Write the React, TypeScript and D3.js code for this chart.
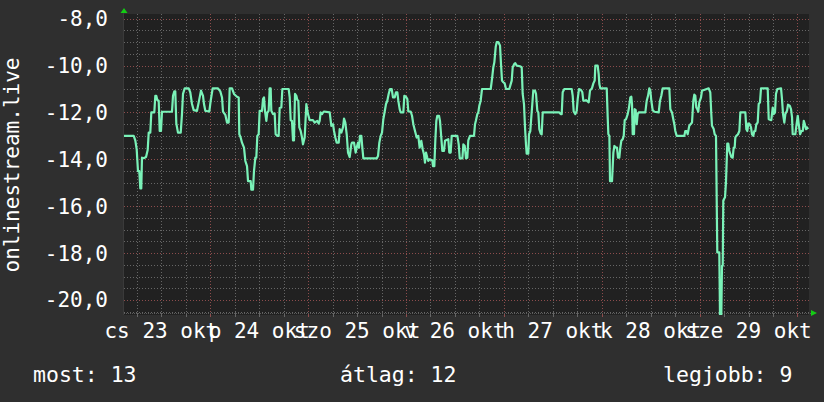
import React from "react";
import * as d3 from "d3";

// ---- data ----
const START_UTC = Date.UTC(2025, 9, 23, 2, 50); // Thu 23 Oct 2025 02:50
const SPAN_HOURS = 168;
const Y_MIN = -20.64;
const Y_MAX = -7.8;
const Y_TICKS = [-8, -10, -12, -14, -16, -18, -20];
const DAY_LABELS = ["cs 23 okt", "p 24 okt", "szo 25 okt", "v 26 okt", "h 27 okt", "k 28 okt", "sze 29 okt"];
const Y_TITLE = "onlinestream.live";
const LEGEND = ["most: 13", "átlag: 12", "legjobb: 9"];

// [hours since start, value]
const SEG_THU: [number, number][] = [
  [0.0,-13.0],[2.38,-13.0],[2.77,-13.19],[3.11,-13.57],[3.43,-14.5],[3.75,-14.5],[4.0,-15.24],[4.24,-15.24],[4.41,-13.93],[4.83,-13.95],[5.4,-13.9],[5.81,-13.6],[6.06,-12.86],[6.45,-12.86],[6.7,-12.0],[7.43,-12.0],[7.68,-11.29],[7.92,-11.29],[8.17,-11.47],[8.51,-11.5],[8.76,-12.79],[9.07,-12.79],[9.32,-11.97],[11.77,-11.97],[12.02,-11.29],[12.34,-11.1],[12.58,-11.1],[12.83,-12.47],[13.24,-12.86],[13.91,-12.86],[14.22,-12.07],[14.47,-11.21],[14.89,-10.97],[15.87,-10.97],[16.26,-11.14],[16.68,-11.64],[17.09,-11.9],[17.9,-11.93],[18.32,-11.57],[18.88,-11.07],[19.38,-11.29],[19.62,-11.64],[19.94,-11.93],[20.92,-11.96],[21.26,-11.5],[21.75,-10.97],[23.05,-10.97],[23.62,-11.1],[24.04,-11.36],[24.28,-11.96],[24.85,-12.1],[25.26,-12.43],[25.68,-12.43],[25.92,-10.97],[26.49,-10.97],[26.98,-11.21],[27.71,-11.33],[28.13,-11.36],[28.28,-12.93]
];
const SEG_FRI: [number, number][] = [
  [28.61,-13.07],[28.94,-13.29],[29.43,-13.5],[29.76,-14.07],[30.17,-14.29],[30.42,-14.93],[31.07,-14.93],[31.23,-15.29],[31.64,-15.29],[31.88,-14.5],[32.21,-13.93],[32.45,-13.93],[32.7,-13.0],[33.03,-12.93],[33.27,-11.93],[33.85,-11.93],[34.09,-11.43],[34.34,-11.36],[34.58,-11.93],[34.91,-12.36],[35.15,-12.0],[35.48,-11.93],[35.73,-10.97],[35.97,-10.97],[36.13,-11.93],[36.54,-12.07],[36.95,-12.04],[37.19,-12.93],[37.61,-13.0],[37.93,-13.0],[38.18,-11.81],[38.59,-11.79],[38.84,-11.0],[40.39,-11.0],[40.64,-11.36],[40.88,-12.33],[41.2,-12.36],[41.45,-13.19],[41.69,-13.19],[41.94,-11.21],[42.27,-11.29],[42.51,-11.47],[42.76,-11.5],[43.0,-12.64],[43.33,-12.79],[43.66,-13.07],[43.9,-13.36],[44.31,-13.07],[44.72,-11.64],[45.13,-12.07],[45.54,-12.33],[46.35,-12.33],[46.76,-12.43],[47.41,-12.36],[47.74,-12.47],[47.99,-12.36],[48.23,-12.0],[48.56,-12.07],[48.81,-12.0],[49.05,-11.96],[50.45,-12.0],[50.85,-12.57],[51.26,-12.5],[51.51,-12.79],[51.83,-13.07],[52.16,-13.29],[52.66,-13.29],[52.9,-12.71],[53.3,-12.86],[53.71,-12.64],[53.96,-12.26],[54.28,-12.43],[54.62,-12.93],[54.94,-13.71],[55.35,-13.9],[55.75,-13.36],[55.92,-13.29],[56.41,-13.29]
];
const SEG_SAT: [number, number][] = [
  [56.82,-13.71],[57.07,-13.5],[57.39,-13.29],[57.64,-13.5],[57.88,-13.0],[58.21,-13.0],[58.45,-13.5],[58.7,-13.96],[61.98,-13.96],[62.3,-13.86],[62.62,-13.29],[62.95,-13.0],[63.28,-12.86],[63.6,-12.29],[63.93,-11.97],[64.26,-11.64],[64.58,-11.5],[64.91,-11.21],[65.24,-11.0],[65.65,-11.0],[65.97,-11.36],[66.39,-11.36],[66.71,-11.14],[67.04,-11.14],[67.28,-11.5],[67.61,-11.86],[67.86,-12.0],[68.51,-12.0],[68.75,-11.29],[69.16,-11.33],[69.49,-11.43],[69.73,-11.96],[70.31,-11.96],[70.64,-12.14],[70.96,-12.5],[71.37,-12.79],[71.78,-13.07],[72.18,-13.0],[72.51,-13.5],[72.92,-13.21],[73.26,-13.57],[73.58,-13.79],[73.82,-14.14],[74.07,-13.71],[74.39,-13.93],[74.63,-14.07],[74.88,-14.0],[75.61,-14.04],[75.79,-14.29],[76.11,-14.29],[76.35,-13.21],[76.6,-12.36],[76.84,-12.14],[77.26,-12.14],[77.5,-12.36],[77.82,-13.07],[78.07,-13.64],[78.48,-13.64],[78.73,-13.21],[78.97,-13.19],[79.54,-13.14],[79.78,-13.71],[80.12,-13.71],[80.37,-13.0],[81.76,-13.0],[82.09,-13.36],[82.34,-13.96],[82.99,-13.96],[83.23,-13.36],[83.56,-13.43],[83.88,-13.96],[84.2,-13.93],[84.44,-13.19],[84.86,-13.0]
];
const SEG_SUN: [number, number][] = [
  [85.84,-13.0],[86.09,-12.5],[86.33,-12.33],[86.66,-12.07],[86.9,-12.0],[87.15,-11.71],[87.48,-11.5],[87.8,-11.0],[89.94,-11.0],[90.26,-10.57],[90.58,-10.07],[90.83,-9.86],[91.16,-9.21],[91.41,-9.0],[91.8,-9.0],[92.22,-9.14],[92.46,-9.93],[92.71,-10.64],[93.03,-10.71],[93.37,-10.76],[93.69,-11.0],[94.5,-11.0],[94.84,-10.79],[95.09,-10.64],[95.33,-10.07],[95.72,-9.93],[95.97,-9.9],[96.31,-10.0],[97.12,-10.03],[97.54,-10.07],[97.78,-11.21],[98.1,-11.64],[98.35,-12.64],[98.59,-13.36],[98.76,-13.76],[99.16,-13.76],[99.33,-12.93],[99.65,-12.79],[99.89,-12.21],[100.14,-11.64],[100.38,-11.07],[100.8,-11.07],[101.05,-11.21],[101.37,-11.93],[101.62,-12.0],[101.86,-12.71],[102.19,-12.9],[102.44,-12.93],[102.69,-12.0],[106.76,-12.0],[107.1,-12.07],[107.35,-12.07],[107.59,-11.14],[107.99,-11.0],[109.8,-11.0],[110.05,-11.29],[110.29,-11.96],[110.69,-12.07],[111.03,-11.93],[111.27,-11.43],[111.59,-11.0],[112.08,-11.04],[112.41,-11.14],[112.65,-11.5],[113.07,-11.5],[113.31,-11.47]
];
const SEG_MON: [number, number][] = [
  [113.97,-11.57],[114.29,-11.07],[114.78,-10.96],[115.11,-10.76],[115.44,-10.64],[115.6,-10.0],[116.17,-10.0],[116.42,-10.36],[116.58,-10.79],[116.82,-10.97],[118.39,-10.97],[118.63,-12.21],[118.79,-12.93],[119.04,-13.0],[119.2,-14.93],[119.69,-14.93],[120.02,-13.71],[120.27,-13.43],[120.67,-13.5],[120.91,-13.5],[121.16,-13.93],[121.48,-13.93],[121.73,-13.5],[121.97,-13.21],[122.31,-13.14],[122.56,-13.0],[122.8,-12.33],[123.12,-12.29],[123.54,-12.07],[123.86,-11.79],[124.18,-11.36],[124.43,-11.33],[124.59,-11.64],[124.76,-12.93],[125.08,-12.93],[125.25,-11.86],[125.49,-11.9],[125.74,-12.5],[125.98,-12.07],[126.23,-12.0],[127.86,-12.0],[128.2,-11.5],[128.52,-11.29],[128.84,-10.97],[129.08,-11.07],[129.33,-11.5],[129.66,-11.9],[130.06,-11.97],[131.14,-12.0],[131.46,-11.5],[131.78,-11.29],[132.12,-10.97],[133.74,-10.97],[133.99,-11.86],[134.4,-12.0],[134.72,-12.29],[134.97,-12.5],[135.21,-12.79],[135.55,-13.0],[137.42,-13.0],[137.66,-12.79],[137.99,-12.79],[138.24,-12.93],[138.64,-12.57],[139.31,-12.43],[139.63,-11.5],[139.87,-11.24],[140.12,-11.29],[140.36,-11.79],[140.61,-11.86],[140.85,-11.97],[141.1,-11.57],[141.52,-11.36],[141.76,-11.07],[142.25,-11.04]
];
const SEG_TUE: [number, number][] = [
  [143.4,-10.97],[143.79,-11.14],[144.04,-12.07],[144.21,-12.57],[144.63,-12.71],[144.87,-12.93],[145.19,-13.0],[145.51,-17.97],[146.0,-17.97],[146.17,-20.65],[146.49,-20.65],[146.66,-18.54],[146.84,-18.54],[146.98,-15.76],[147.4,-15.62],[147.64,-14.97],[147.96,-13.33],[148.21,-13.33],[148.45,-13.64],[148.94,-13.9],[149.28,-13.93],[149.53,-13.5],[149.77,-13.5],[149.93,-13.07],[150.18,-13.0],[150.59,-12.93],[150.92,-12.79],[151.16,-12.0],[152.39,-12.0],[152.63,-12.71],[152.88,-12.79],[153.12,-12.47],[153.46,-12.5],[153.78,-12.64],[154.02,-12.93],[154.34,-13.0],[154.59,-12.79],[154.83,-12.79],[155.08,-12.5],[155.42,-12.43],[155.66,-11.64],[155.98,-11.57],[156.23,-10.97],[157.87,-10.97],[158.12,-12.29],[158.75,-12.33],[159.1,-11.79],[159.34,-12.07],[159.66,-12.0],[159.9,-11.21],[160.23,-11.0],[161.14,-10.97],[161.38,-11.43],[161.63,-12.07],[161.95,-12.43],[162.2,-12.07],[162.61,-11.93],[162.85,-11.67],[163.27,-11.71],[163.59,-11.86],[163.84,-12.21],[164.0,-12.93],[164.65,-12.93],[164.9,-12.57],[165.24,-12.14],[165.48,-12.5],[165.81,-12.93],[166.13,-12.79],[166.48,-12.79],[166.72,-12.36],[166.97,-12.5],[167.29,-12.71],[167.53,-12.64],[167.78,-12.71]
];

// ---- layout / style ----
const W = 824, H = 402;
const PL = 124, PR = 809, PT = 14, PB = 315;
const FONT = "'DejaVu Sans Mono', monospace";
const BG = "#2f2f2f", CANVAS = "#212121";
const LINE = "#7af2b8";
const GRID_MINOR = "#666666", GRID_MAJOR = "#8c4c4c";
const ARROW = "#14cc14";

const HOUR = 3600 * 1000;
const locale = d3.formatLocale({ decimal: ",", thousands: " ", grouping: [3], currency: ["", ""], minus: "-" });
const fmt = locale.format(".1f");

export default function App() {
  const start = new Date(START_UTC);
  const end = new Date(START_UTC + SPAN_HOURS * HOUR);
  const x = d3.scaleUtc().domain([start, end]).range([PL, PR]);
  const y = d3.scaleLinear().domain([Y_MIN, Y_MAX]).range([PB, PT]);

  const points = [...SEG_THU, ...SEG_FRI, ...SEG_SAT, ...SEG_SUN, ...SEG_MON, ...SEG_TUE].map(
    ([h, v]) => ({ t: new Date(START_UTC + h * HOUR), v })
  );
  const line = d3.line<{ t: Date; v: number }>().x((d) => x(d.t)).y((d) => y(d.v));

  const sixHours = d3.utcHour.every(6)!.range(start, end);
  const minorT = sixHours.filter((d) => d.getUTCHours() !== 0);
  const majorT = sixHours.filter((d) => d.getUTCHours() === 0);
  const dayStarts = d3.utcDay.range(d3.utcDay.floor(start), end);
  const noons = dayStarts.map((d) => new Date(+d + 12 * HOUR));

  const hMinor = d3.range(Math.ceil(Y_MIN * 2) / 2, Y_MAX, 0.5).filter((v) => Math.abs(v % 2) > 0.01);
  const hMajor = Y_TICKS;

  return (
    <svg width={W} height={H} style={{ position: "absolute", left: 0, top: 0 }} fontFamily={FONT}>
      <defs>
        <clipPath id="plotclip">
          <rect x={PL} y={PT} width={PR - PL} height={PB - PT} />
        </clipPath>
      </defs>
      <rect x={0} y={0} width={W} height={H} fill={BG} />
      <rect x={PL} y={PT} width={PR - PL} height={PB - PT} fill={CANVAS} />

      {/* horizontal grid */}
      {hMinor.map((v) => (
        <line key={"hm" + v} x1={PL} x2={PR} y1={Math.round(y(v)) + 0.5} y2={Math.round(y(v)) + 0.5}
          stroke={GRID_MINOR} strokeWidth={1} strokeDasharray="1,2" />
      ))}
      {hMajor.map((v) => (
        <line key={"hM" + v} x1={PL} x2={PR} y1={Math.round(y(v)) + 0.5} y2={Math.round(y(v)) + 0.5}
          stroke={GRID_MAJOR} strokeWidth={1} strokeDasharray="1,2" />
      ))}
      {/* vertical grid */}
      {minorT.map((d) => (
        <line key={"vm" + +d} x1={Math.round(x(d)) + 0.5} x2={Math.round(x(d)) + 0.5} y1={PT} y2={PB - 2}
          stroke={GRID_MINOR} strokeWidth={1} strokeDasharray="1,2" />
      ))}
      {majorT.map((d) => (
        <line key={"vM" + +d} x1={Math.round(x(d)) + 0.5} x2={Math.round(x(d)) + 0.5} y1={PT} y2={PB - 2}
          stroke={GRID_MAJOR} strokeWidth={1} strokeDasharray="1,2" />
      ))}
      {/* x axis ticks */}
      {minorT.map((d) => (
        <line key={"tm" + +d} x1={Math.round(x(d)) + 0.5} x2={Math.round(x(d)) + 0.5} y1={PB - 2} y2={PB + 2}
          stroke={GRID_MINOR} strokeWidth={1} />
      ))}
      {majorT.map((d) => (
        <line key={"tM" + +d} x1={Math.round(x(d)) + 0.5} x2={Math.round(x(d)) + 0.5} y1={PB - 2} y2={PB + 2}
          stroke={GRID_MAJOR} strokeWidth={1} />
      ))}
      <line x1={PL} x2={PR + 2} y1={PB - 1.5} y2={PB - 1.5} stroke="#5a5a5a" strokeWidth={1} strokeDasharray="1,1" />
      <line x1={PL - 0.5} x2={PL - 0.5} y1={PT - 2} y2={PB} stroke="#3a3a3a" strokeWidth={1} />

      {/* data line */}
      <path d={line(points) || ""} fill="none" stroke={LINE} strokeWidth={2.2} strokeLinejoin="round" clipPath="url(#plotclip)" />

      {/* arrows */}
      <path d={`M${PL - 3.5},${PT - 1} L${PL + 3.5},${PT - 1} L${PL},${PT - 6} Z`} fill={ARROW} />
      <path d={`M${PR + 2},${PB - 5} L${PR + 2},${PB + 1} L${PR + 8},${PB - 2} Z`} fill={ARROW} />

      {/* y tick labels */}
      {Y_TICKS.map((v) => (
        <text key={"yl" + v} x={108} y={y(v) + 7.5} textAnchor="end" fill="#fff" fontSize={21}>
          {fmt(v)}
        </text>
      ))}
      {/* x day labels */}
      {noons.filter((d) => d > start && d < end).map((d, i) => (
        <text key={"xl" + i} x={x(d)} y={338} textAnchor="middle" fill="#fff" fontSize={21}>
          {DAY_LABELS[i]}
        </text>
      ))}
      {/* y title */}
      <text transform={`translate(19,165) rotate(-90)`} textAnchor="middle" fill="#fff" fontSize={21}>
        {Y_TITLE}
      </text>
      {/* legend */}
      <text x={33} y={382} fill="#fff" fontSize={21.5}>{LEGEND[0]}</text>
      <text x={340} y={382} fill="#fff" fontSize={21.5}>{LEGEND[1]}</text>
      <text x={663} y={382} fill="#fff" fontSize={21.5}>{LEGEND[2]}</text>
    </svg>
  );
}
